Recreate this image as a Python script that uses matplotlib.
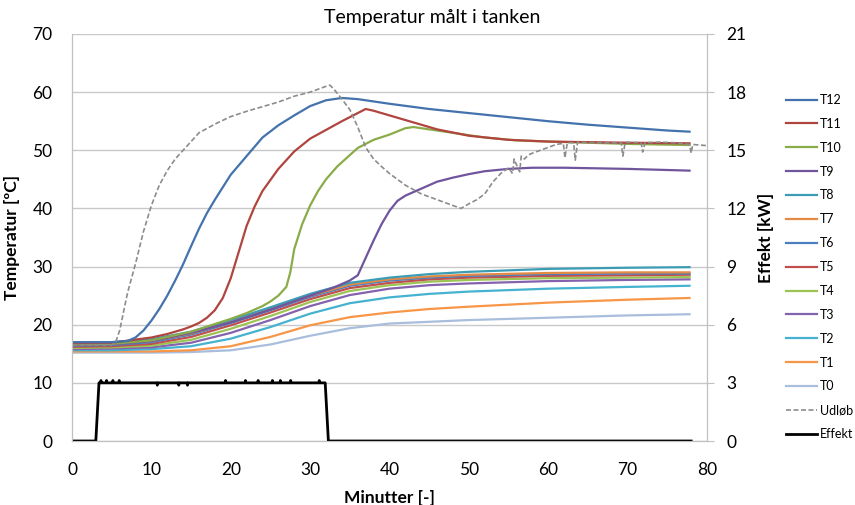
import matplotlib; matplotlib.use("Agg")
import matplotlib.pyplot as plt
import numpy as np

plt.rcParams.update({"font.family": ["Lato", "DejaVu Sans"], "font.size": 11})

# ---- data ----
t_low = [0, 5, 10, 15, 20, 25, 30, 35, 40, 45, 50, 60, 70, 77.8]
T8 = [16.9, 17.0, 17.5, 18.8, 20.8, 23.0, 25.3, 27.2, 28.1, 28.7, 29.1, 29.6, 29.8, 29.9]
T7 = [16.6, 16.7, 17.2, 18.5, 20.5, 22.7, 25.0, 26.9, 27.8, 28.3, 28.6, 28.9, 29.0, 29.0]
T6 = [16.4, 16.5, 17.0, 18.3, 20.3, 22.5, 24.8, 26.7, 27.6, 28.1, 28.4, 28.7, 28.8, 28.8]
T5 = [16.2, 16.3, 16.7, 17.9, 19.9, 22.1, 24.4, 26.3, 27.2, 27.8, 28.1, 28.4, 28.5, 28.6]
T4 = [16.0, 16.1, 16.4, 17.4, 19.3, 21.5, 23.9, 25.8, 26.8, 27.4, 27.7, 28.0, 28.1, 28.2]
T3 = [15.8, 15.9, 16.1, 16.9, 18.6, 20.8, 23.2, 25.1, 26.2, 26.8, 27.1, 27.5, 27.7, 27.8]
T2 = [15.6, 15.6, 15.8, 16.3, 17.6, 19.6, 21.9, 23.7, 24.7, 25.3, 25.7, 26.2, 26.5, 26.7]
T1 = [15.4, 15.4, 15.4, 15.6, 16.3, 17.9, 19.9, 21.3, 22.1, 22.7, 23.1, 23.8, 24.3, 24.6]
T0 = [15.2, 15.2, 15.2, 15.3, 15.6, 16.6, 18.1, 19.4, 20.2, 20.5, 20.8, 21.2, 21.6, 21.8]

t12 = [0, 5, 7, 8, 9, 10, 11, 12, 13, 14, 15, 16, 17, 18, 20, 22, 24, 26, 28, 30, 32, 34, 36, 40, 45, 50, 55, 60, 65, 70, 75, 77.8]
T12 = [17.0, 17.0, 17.2, 17.8, 19.0, 20.7, 22.7, 25.0, 27.6, 30.4, 33.5, 36.5, 39.2, 41.5, 45.8, 49.0, 52.2, 54.3, 56.0, 57.6, 58.6, 59.0, 58.8, 58.0, 57.1, 56.4, 55.7, 55.0, 54.4, 53.9, 53.4, 53.2]

t11 = [0, 5, 10, 12, 14, 15, 16, 17, 18, 19, 20, 21, 22, 23, 24, 26, 28, 30, 32, 34, 36, 37, 38, 40, 43, 46, 50, 55, 60, 65, 70, 77.8]
T11 = [16.8, 16.9, 17.8, 18.4, 19.2, 19.7, 20.3, 21.2, 22.5, 24.6, 28.0, 32.5, 37.0, 40.3, 43.0, 46.8, 49.8, 52.0, 53.5, 55.0, 56.4, 57.1, 56.8, 56.0, 54.8, 53.6, 52.5, 51.8, 51.5, 51.4, 51.3, 51.2]

t10 = [0, 5, 10, 15, 20, 22, 24, 25, 26, 27, 27.5, 28, 29, 30, 31, 32, 33.4, 36, 38, 40, 42, 43, 45, 48, 52, 56, 60, 65, 70, 77.8]
T10 = [16.6, 16.7, 17.3, 18.8, 21.0, 22.0, 23.2, 24.0, 25.0, 26.5, 29.0, 33.0, 37.3, 40.5, 43.0, 45.0, 47.2, 50.4, 51.8, 52.7, 53.8, 54.0, 53.6, 53.0, 52.2, 51.7, 51.5, 51.3, 51.1, 50.9]

t9 = [0, 5, 10, 15, 20, 25, 30, 33, 34, 35, 36, 37, 38, 39, 40, 41, 42, 44, 46, 48, 50, 52, 55, 58, 62, 66, 70, 77.8]
T9 = [16.5, 16.6, 17.2, 18.6, 20.4, 22.6, 25.0, 26.4, 27.0, 27.6, 28.5, 31.5, 34.5, 37.3, 39.6, 41.3, 42.2, 43.4, 44.6, 45.3, 45.9, 46.4, 46.8, 47.0, 47.0, 46.9, 46.8, 46.5]

t_ud = [0, 5, 5.5, 6, 7, 8, 9, 10, 11, 12, 13, 14, 15, 16, 18, 20, 22, 24, 26, 28, 30, 31, 32, 32.5, 33, 34, 35, 36, 37, 38, 39, 40, 42, 44, 46, 48, 49, 50,
        51, 52, 53, 54, 55, 55.5, 55.7, 56, 56.4, 56.6, 57, 57.5, 58, 59, 60, 61, 61.9, 62.1, 62.4, 63.2, 63.4, 63.7, 66, 68, 69.2, 69.4, 69.7, 71.7, 71.9, 72.2, 74, 76, 77.8, 78.0, 78.2, 80]
Udlob = [16.5, 16.5, 17.0, 19.0, 25.5, 30.5, 36.0, 40.5, 44.0, 46.5, 48.5, 50.0, 51.5, 53.0, 54.5, 55.8, 56.7, 57.5, 58.3, 59.3, 60.0, 60.5, 61.0, 61.2, 60.5, 58.8, 57.0, 54.0, 50.5, 48.5, 47.2, 46.0, 44.0, 42.5, 41.5, 40.5, 40.0, 40.8,
         41.5, 42.5, 44.5, 46.0, 47.0, 46.0, 48.5, 47.5, 46.3, 49.0, 48.5, 49.2, 49.5, 50.0, 50.5, 51.0, 51.2, 48.7, 51.3, 51.3, 48.3, 51.4, 51.3, 51.3, 51.3, 49.0, 51.4, 51.3, 49.7, 51.3, 51.4, 51.3, 51.0, 49.5, 51.0, 50.8]

eff_t = [0, 3.0, 3.4, 3.6, 3.65, 3.7, 4.3, 4.35, 4.4, 5.1, 5.15, 5.2, 5.9, 5.95, 6.0, 10.7, 10.75, 10.8, 13.4, 13.45, 13.5,
         14.5, 14.55, 14.6, 19.3, 19.35, 19.4, 21.8, 21.85, 21.9, 23.4, 23.45, 23.5, 25.2, 25.25, 25.3, 26.2, 26.25, 26.3,
         27.5, 27.55, 27.6, 31.1, 31.15, 31.2, 31.9, 32.3, 78]
eff_kw = [0, 0, 3.0, 3.0, 3.12, 3.0, 3.0, 3.12, 3.0, 3.0, 3.12, 3.0, 3.0, 3.12, 3.0, 3.0, 2.88, 3.0, 3.0, 2.88, 3.0,
          3.0, 2.88, 3.0, 3.0, 3.12, 3.0, 3.0, 3.12, 3.0, 3.0, 3.12, 3.0, 3.0, 3.12, 3.0, 3.0, 3.12, 3.0,
          3.0, 3.12, 3.0, 3.0, 3.12, 3.0, 3.0, 0, 0]

labels = ["T12", "T11", "T10", "T9", "T8", "T7", "T6", "T5", "T4", "T3", "T2", "T1", "T0"]
colors = ["#4372ad", "#b0453f", "#8aac48", "#70559d", "#3b9db5", "#e48a44",
          "#4a7fc0", "#c24f4c", "#9cc453", "#8562ad", "#45b2cf", "#f79646", "#a8bedc"]
series = [(t12, T12), (t11, T11), (t10, T10), (t9, T9), (t_low, T8), (t_low, T7), (t_low, T6),
          (t_low, T5), (t_low, T4), (t_low, T3), (t_low, T2), (t_low, T1), (t_low, T0)]

fig = plt.figure(figsize=(8.55, 5.05), dpi=100)
ax = fig.add_axes([72/855, 1-441/505, 635/855, 407/505])
ax2 = ax.twinx()

handles = []
# draw lower ones first so the top-layer order resembles the reference
for (tt, yy), lab, c in reversed(list(zip(series, labels, colors))):
    h, = ax.plot(tt, yy, color=c, lw=1.6, label=lab)
    handles.insert(0, h)
hu, = ax.plot(t_ud, Udlob, color="#8c8c8c", lw=1.2, ls=(0, (3, 1.5)), label="Udløb")
he, = ax2.plot(eff_t, eff_kw, color="black", lw=2, label="Effekt")
handles += [hu, he]

ax.set_xlim(0, 80); ax.set_ylim(0, 70)
ax2.set_ylim(0, 21)
ax.set_xticks(range(0, 81, 10)); ax.set_yticks(range(0, 71, 10)); ax2.set_yticks(range(0, 22, 3))
ax.grid(axis="y", color="#c8c8c8", lw=1)
ax.set_axisbelow(True)
for a in (ax, ax2):
    a.spines["top"].set_visible(False)
    for s in ("left", "right", "bottom"):
        a.spines[s].set_color("#c0c0c0")
ax.tick_params(axis="y", length=0, labelsize=12.5, pad=14)
ax.tick_params(axis="x", length=0, labelsize=12.5, pad=15)
ax2.tick_params(axis="y", length=5, color="#c0c0c0", labelsize=12.5, pad=9)

ax.set_xlabel("Minutter [-]", fontweight="bold", fontsize=12.5, labelpad=9)
ax.set_ylabel("Temperatur [ºC]", fontweight="bold", fontsize=12.5, labelpad=9)
ax2.set_ylabel("Effekt [kW]", fontweight="bold", fontsize=12.5, labelpad=8)

fig.text(432/855, 1-17/505, "Temperatur målt i tanken", ha="center", va="center", fontsize=14)

fig.legend(handles=handles, loc="upper left", bbox_to_anchor=(786/855, 1-94/505), frameon=False,
           fontsize=9, handlelength=2.5, handletextpad=0.2, labelspacing=0.95, borderpad=0, borderaxespad=0)

fig.savefig("out.png", dpi=100)
